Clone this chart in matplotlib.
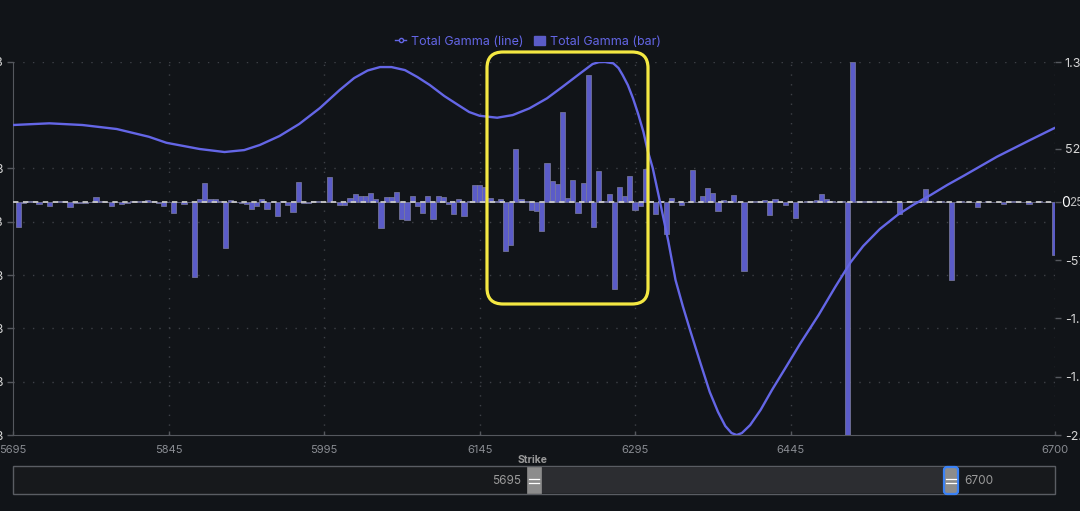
import numpy as np
import matplotlib
matplotlib.use('Agg')
import matplotlib.pyplot as plt
from matplotlib.patches import FancyBboxPatch, Rectangle
from matplotlib.lines import Line2D
from matplotlib.patches import Patch
from matplotlib.transforms import blended_transform_factory, IdentityTransform

plt.rcParams['font.family'] = ['Inter', 'DejaVu Sans']

# ---------------- data ----------------
strikes = np.arange(5695, 6701, 5)
bar_values = [  # Total Gamma (bar), millions
    0, -247, -10, 10, 10, -20, 3, -39, 2, 10,
    4, -49, -12, -8, -10, 3, 49, 10, 3, -39,
    -3, -20, -8, 8, 8, 10, 20, 4, -10, -39,
    -3, -108, -4, -20, 2, -740, 30, 187, 30, 30,
    4, -454, 20, 3, -10, -20, -69, -39, 30, -69,
    -3, -138, 10, -30, -99, 197, -10, -10, 10, 10,
    2, 247, 3, -30, -30, 39, 79, 59, 59, 89,
    30, -257, 49, 49, 99, -168, -178, 59, -39, -108,
    59, -168, 59, 49, -20, -118, 30, -138, 10, 168,
    168, 148, 39, 5, 30, -483, -424, 523, 30, 4,
    -79, -89, -286, 385, 207, 178, 888, 39, 217, -108,
    187, 1253, -247, 306, 5, 79, -858, 148, 59, 257,
    -79, -39, 326, 5, -118, 4, -316, 39, 3, -30,
    3, 316, 3, 59, 138, 89, -89, 20, 10, 69,
    3, -681, 3, 4, 5, 20, -128, 30, 3, -30,
    2, -158, 3, 4, 5, 20, 79, 30, 5, 3,
    4, -2300, 1380, 4, 5, 12, 5, 3, 4, 3,
    -5, -118, 3, 4, 5, 8, 128, 10, 3, 4,
    3, -770, 3, 4, 3, -3, -49, 3, 4, 3,
    -3, -20, 3, 4, 3, -4, -20, 3, 4, 3,
    2, -523,
]
assert len(bar_values) == len(strikes)

line_strikes = [5695, 5730, 5762, 5795, 5826, 5843, 5875, 5899, 5918, 5933,
                5952, 5971, 5991, 6010, 6024, 6037, 6049, 6060, 6073, 6085,
                6097, 6111, 6126, 6135, 6145, 6162, 6177, 6193, 6210, 6225,
                6242, 6254, 6260, 6266, 6274, 6279, 6283, 6288, 6293, 6298,
                6303, 6307, 6312, 6319, 6327, 6334, 6341, 6348, 6358, 6367,
                6375, 6382, 6388, 6393, 6398, 6406, 6416, 6427, 6440, 6454,
                6472, 6488, 6503, 6515, 6531, 6548, 6563, 6580, 6596, 6612,
                6644, 6676, 6700]
line_values = [1.088, 1.107, 1.088, 1.043, 0.956, 0.888, 0.818, 0.784, 0.806, 0.863,
               0.964, 1.099, 1.279, 1.481, 1.616, 1.701, 1.740, 1.740, 1.706, 1.628,
               1.538, 1.414, 1.301, 1.234, 1.192, 1.170, 1.200, 1.275, 1.388, 1.518,
               1.669, 1.774, 1.795, 1.797, 1.782, 1.729, 1.650, 1.538, 1.388, 1.211,
               1.012, 0.806, 0.604, 0.225, -0.218, -0.656, -0.949, -1.219, -1.590, -1.916,
               -2.141, -2.299, -2.378, -2.400, -2.378, -2.288, -2.119, -1.894, -1.646, -1.376,
               -1.050, -0.735, -0.454, -0.274, -0.083, 0.075, 0.188, 0.300, 0.413, 0.517,
               0.731, 0.919, 1.057]
assert len(line_values) == len(line_strikes)

x_ticks = [5695, 5845, 5995, 6145, 6295, 6445, 6700]
x_labels = ['5695', '5845', '5995', '6145', '6295', '6445', '6700']
left_ticks = [-2.4, -1.8, -1.2, -0.6, 0.0, 0.6, 1.797]
left_labels = ['-2.4B', '-1.8B', '-1.2B', '-0.6B', '0.0B', '0.6B', '1.8B']
right_ticks = [-2300, -1725, -1150, -575, 0, 525, 1380]
right_labels = ['-2.3B', '-1.73B', '-1.15B', '-575M', '', '525M', '1.38B']
legend_labels = ['Total Gamma (line)', 'Total Gamma (bar)']
range_labels = ['5695', '6700']

# ---------------- style ----------------
BG = '#111418'
C_LINE = '#6466e6'
C_BAR = '#5b5cc8'
GRID = '#3e4147'
SPINE = '#55585e'
W, H = 1080, 511

fig = plt.figure(figsize=(W / 100, H / 100), dpi=100, facecolor=BG)
ax = fig.add_axes([13 / W, 76 / H, 1042 / W, 373 / H])
ax.set_facecolor(BG)
ax2 = ax.twinx()

# bars on primary (right scale)
ax.bar(strikes, bar_values, width=5, color=C_BAR, edgecolor='#7d7e9e',
       linewidth=0.5, zorder=3)
ax.axhline(0, color='#c8c8c8', lw=1.3, ls=(0, (3, 2.5)), zorder=5)
ax.set_ylim(right_ticks[0], right_ticks[-1])
ax.set_xlim(x_ticks[0], x_ticks[-1])
ax.yaxis.tick_right()
ax.set_yticks(right_ticks)
ax.set_yticklabels(right_labels)
ax.set_xticks(x_ticks)
ax.set_xticklabels(x_labels)

# line on twin (left scale)
ax2.plot(line_strikes, line_values, color=C_LINE, lw=1.7, zorder=6,
         solid_joinstyle='round', solid_capstyle='round')
ax2.set_ylim(left_ticks[0], left_ticks[-1])
ax2.yaxis.tick_left()
ax2.set_yticks(left_ticks)
ax2.set_yticklabels(left_labels)

# grid
for xv in x_ticks[1:]:
    ax.axvline(xv, color=GRID, lw=1, ls=(0, (1, 6)), zorder=1)
trans = blended_transform_factory(ax.transAxes, ax2.transData)
for yv in left_ticks[1:]:
    ax.plot([0, 1], [yv, yv], transform=trans, color=GRID, lw=1,
            ls=(0, (1, 6)), zorder=1)

for a in (ax, ax2):
    for s in ('top', 'right'):
        a.spines[s].set_visible(False)
ax2.spines['left'].set_visible(False)
ax2.spines['bottom'].set_visible(False)
ax.spines['left'].set_color(SPINE)
ax.spines['bottom'].set_color(SPINE)

ax.tick_params(axis='y', direction='out', length=4, width=1, color=SPINE,
               labelcolor='#d6d6d6', labelsize=9, pad=3)
ax2.tick_params(axis='y', direction='out', length=4, width=1, color=SPINE,
                labelcolor='#d6d6d6', labelsize=9, pad=3)
ax.tick_params(axis='x', direction='in', length=3, width=1, color=SPINE,
               labelcolor='#8a8d93', labelsize=8, pad=7)

# zero label on right axis
fig.text(1061 / W, 1 - 203 / H, '0', color='white', fontsize=10,
         ha='left', va='center')
fig.text(1069 / W, 1 - 203 / H, '25M', color='#bdbdbd', fontsize=8.5,
         ha='left', va='center')

# legend
handles = [Line2D([0], [0], color=C_LINE, lw=1, marker='o', markersize=3,
                  markerfacecolor=BG, markeredgecolor=C_LINE),
           Patch(facecolor=C_BAR, edgecolor=C_BAR)]
fig.legend(handles, legend_labels, loc='center',
           bbox_to_anchor=(528 / W, 1 - 42 / H), ncol=2, frameon=False,
           fontsize=9, labelcolor=C_LINE, columnspacing=0.8,
           handletextpad=0.4, handlelength=0.9, handleheight=0.8)

# highlight box
idt = IdentityTransform()
fig.add_artist(FancyBboxPatch((487, H - 304), 161, 252,
                              boxstyle='round,pad=0,rounding_size=16',
                              fill=False, edgecolor='#f4e842', lw=2.3,
                              transform=idt, zorder=20))

# x-axis title
fig.text(533 / W, 1 - 460 / H, 'Strike', color='#9a9a9a', fontsize=7.5,
         fontweight='bold', ha='center', va='center')

# range slider
def rect(x, y_top, w, h, **kw):
    r = Rectangle((x, H - y_top - h), w, h, transform=idt, **kw)
    fig.add_artist(r)
    return r

rect(13, 466, 1042, 28, facecolor='#17191c', edgecolor='#5a5d63', lw=1)
rect(541, 467, 403, 26, facecolor='#2c2d31', edgecolor='none')
rect(527, 467, 14, 26, facecolor='#8c8c8c', edgecolor='#8c8c8c', lw=0.5)
fig.add_artist(FancyBboxPatch((944, H - 494), 14, 27,
                              boxstyle='round,pad=0,rounding_size=3',
                              facecolor='#8c8c8c', edgecolor='#3b82f6',
                              lw=1.6, transform=idt))
for hx in (529, 946):
    for hy in (479, 483):
        fig.add_artist(Line2D([hx, hx + 10], [H - hy, H - hy], color='white',
                              lw=0.9, transform=idt))
fig.text(521 / W, 1 - 481 / H, range_labels[0], color='#9a9a9a', fontsize=8.5,
         ha='right', va='center')
fig.text(964 / W, 1 - 481 / H, range_labels[1], color='#9a9a9a', fontsize=8.5,
         ha='left', va='center')

fig.savefig('out.png', dpi=100, facecolor=BG)
